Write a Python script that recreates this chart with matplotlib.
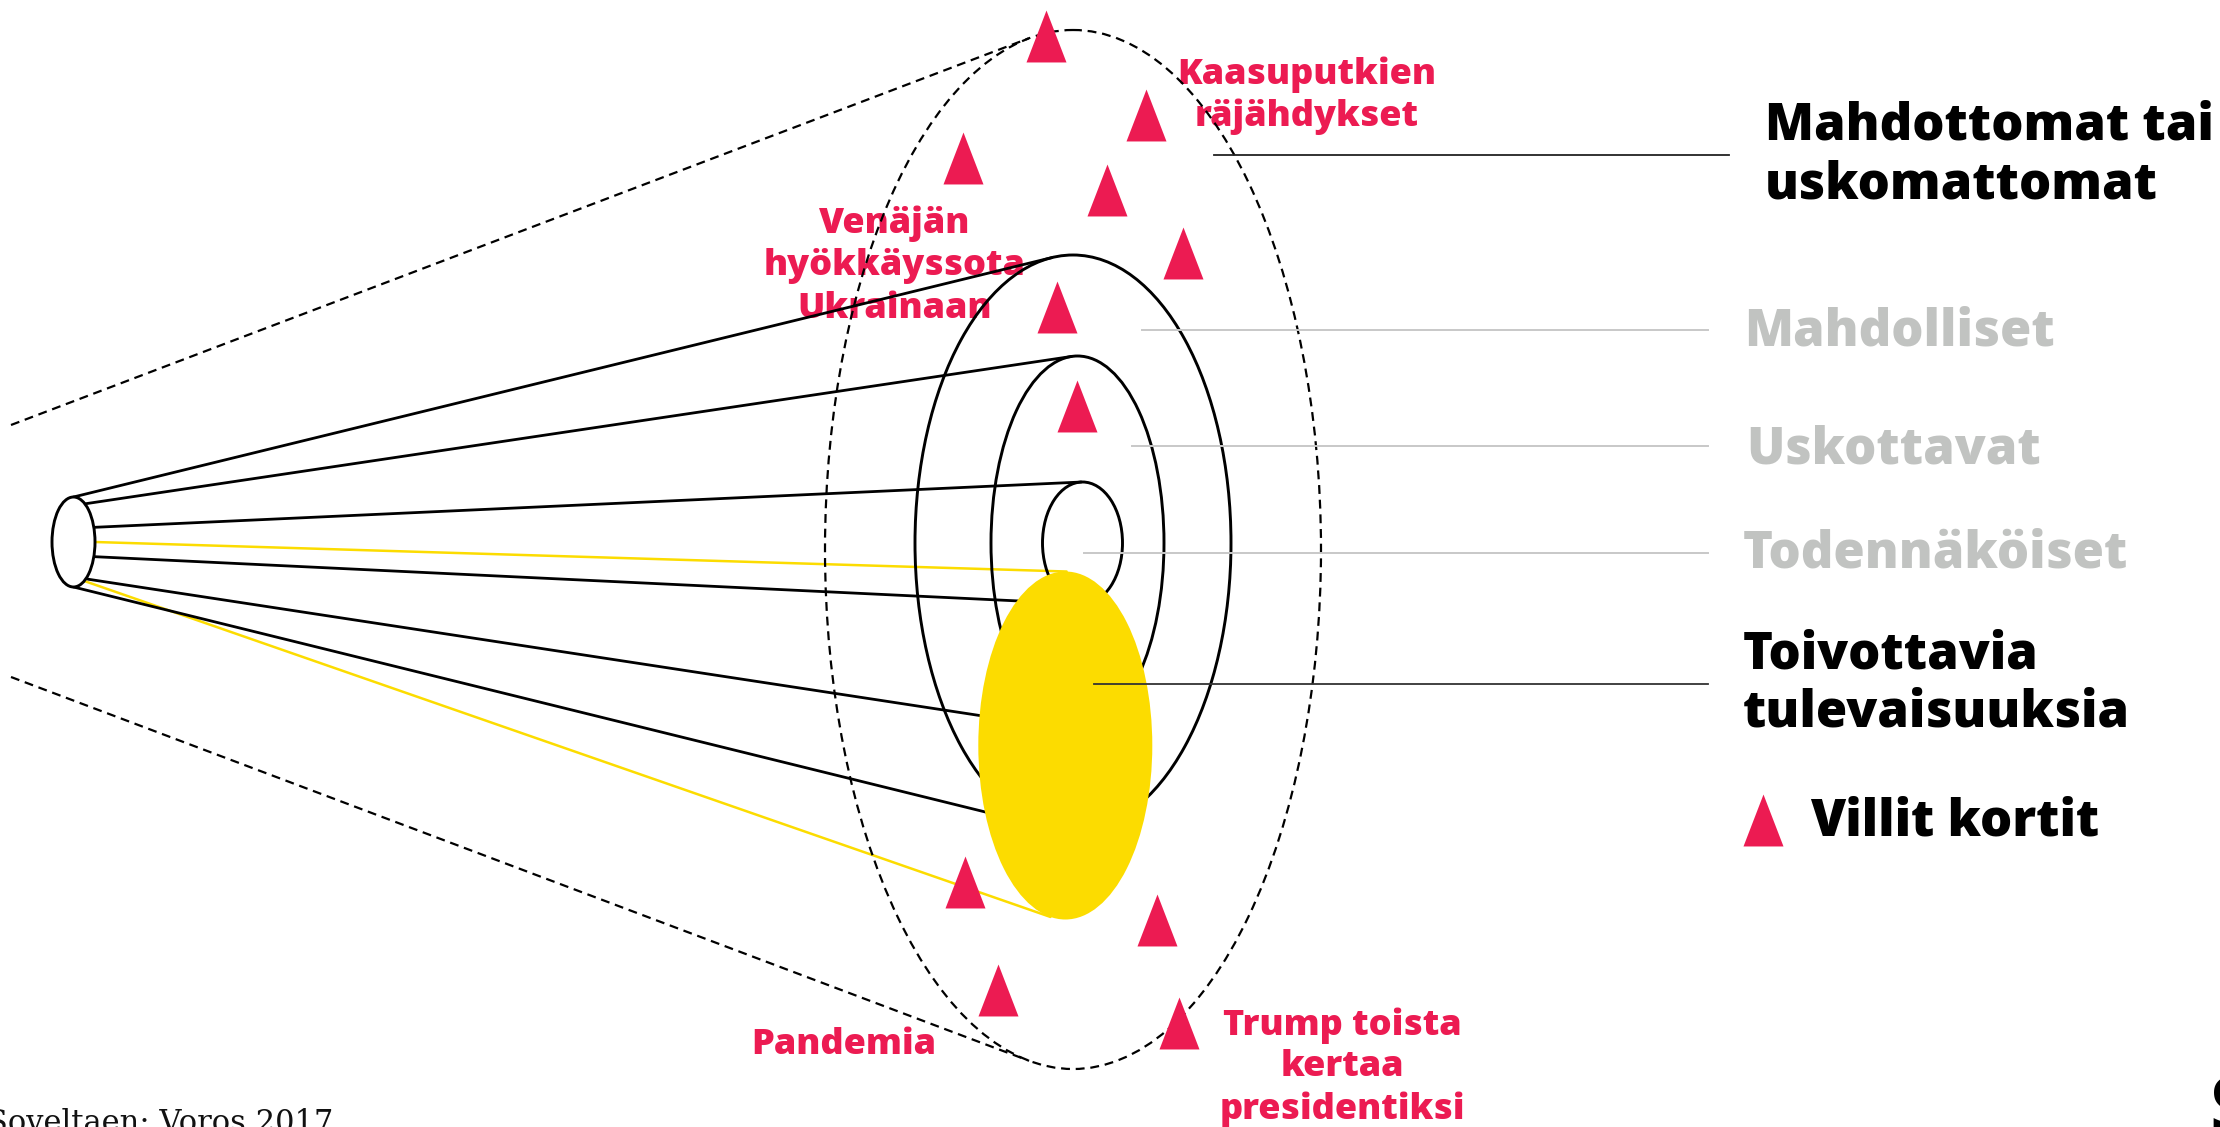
import numpy as np
import matplotlib
matplotlib.use("Agg")
import matplotlib.pyplot as plt
from matplotlib.patches import Ellipse

# ---------------- data ----------------
level_labels = ["Mahdottomat tai\nuskomattomat", "Mahdolliset", "Uskottavat",
                "Todennäköiset", "Toivottavia\ntulevaisuuksia"]
level_colors = ["#000000", "#C1C3C1", "#C1C3C1", "#C1C3C1", "#000000"]
legend_label = "Villit kortit"

wild_x = [1045.7, 1145.7, 963.3, 1106.7, 1183.0, 1057.0, 1077.0, 965.0, 1156.7, 997.7, 1178.7]
wild_y = [36.0, 114.5, 158.0, 189.5, 253.0, 307.0, 405.5, 882.0, 920.0, 990.0, 1023.0]

event_labels = ["Kaasuputkien\nräjähdykset", "Venäjän\nhyökkäyssota\nUkrainaan",
                "Pandemia", "Trump toista\nkertaa\npresidentiksi"]
source_text = "Soveltaen: Voros 2017"

# ---------------- geometry (canvas pixels) ----------------
W, H = 2220, 1127
PINK = "#EC1B52"
YELLOW = "#FCDC00"
GREY = "#C1C3C1"
HEAVY = ["Open Sans", "DejaVu Sans"]
HW = 800

small = (73.5, 542.0, 43.0, 90.0)
dash_e = (1073.0, 549.5, 496.0, 1039.0)
e_possible = (1073.0, 543.0, 316.0, 576.0)
e_plausible = (1077.5, 543.0, 173.0, 374.0)
e_probable = (1082.5, 543.0, 80.0, 122.0)
e_prefer = (1065.3, 745.5, 174.0, 348.0)

fig = plt.figure(figsize=(W / 100, H / 100), dpi=100)
ax = fig.add_axes([0, 0, 1, 1])
ax.set_xlim(0, W)
ax.set_ylim(H, 0)
ax.axis("off")


def point_on(e, deg):
    cx, cy, w, h = e
    t = np.deg2rad(deg)
    return cx + w / 2 * np.cos(t), cy + h / 2 * np.sin(t)


def tangent(P, e, which):
    cx, cy, w, h = e
    a, b = w / 2, h / 2
    t = np.linspace(0, 2 * np.pi, 40001)
    ex, ey = cx + a * np.cos(t), cy + b * np.sin(t)
    dx, dy = -a * np.sin(t), b * np.cos(t)
    cr = (ex - P[0]) * dy - (ey - P[1]) * dx
    idx = np.where(np.sign(cr[:-1]) * np.sign(cr[1:]) < 0)[0]
    pts = [(ex[i], ey[i]) for i in idx]
    pts.sort(key=lambda p: p[1])
    return pts[0] if which == "top" else pts[-1]


def ellipse(e, **kw):
    cx, cy, w, h = e
    ax.add_patch(Ellipse((cx, cy), w, h, **kw))


# cone lines from the present (small ellipse) to each ring
cone = [(-90, e_possible, "top", "k"), (-58, e_plausible, "top", "k"),
        (-19, e_probable, "top", "k"), (0, e_prefer, "top", YELLOW),
        (19, e_probable, "bottom", "k"), (55, e_plausible, "bottom", "k"),
        (60, e_prefer, "bottom", YELLOW), (90, e_possible, "bottom", "k")]
for deg, tgt, which, col in cone:
    P = point_on(small, deg)
    Q = tangent(P, tgt, which)
    ax.plot([P[0], Q[0]], [P[1], Q[1]], color=col,
            lw=2.0 if col == "k" else 1.8, zorder=2, solid_capstyle="round")

# dashed outer cone
for P, which in [((11.0, 425.0), "top"), ((11.0, 677.0), "bottom")]:
    Q = tangent(P, dash_e, which)
    ax.plot([P[0], Q[0]], [P[1], Q[1]], color="k", lw=1.6,
            ls=(0, (4, 2.6)), zorder=2)
ellipse(dash_e, fill=False, ec="k", lw=1.6, ls=(0, (4, 2.6)), zorder=2)

for e in (e_possible, e_plausible, e_probable):
    ellipse(e, fill=False, ec="k", lw=2.1, zorder=2)
ellipse(small, fc="white", ec="k", lw=2.1, zorder=2.5)
ellipse(e_prefer, fc=YELLOW, ec="none", zorder=3)

# leader lines
leaders = [(1214, 1729, 155, "#222222", 1.3), (1142, 1708, 330, "#C8C8C8", 1.4),
           (1132, 1708, 446, "#C8C8C8", 1.4), (1084, 1708, 552.7, "#C8C8C8", 1.4),
           (1094, 1708, 684, "#333333", 1.3)]
for x0, x1, y, c, lw in leaders:
    ax.plot([x0, x1], [y, y], color=c, lw=lw, zorder=4)

# wild-card triangles
tri = [(-0.77, -1.0), (0.77, -1.0), (0.0, 1.0)]
ax.plot(wild_x, wild_y, ls="none", marker=tri, markersize=37.4,
        color=PINK, markeredgewidth=0, zorder=5)
ax.plot([1762.7], [820.0], ls="none", marker=tri, markersize=37.4,
        color=PINK, markeredgewidth=0, zorder=5)


def multiline(x, y0, text, step, **kw):
    for i, line in enumerate(text.split("\n")):
        ax.text(x, y0 + i * step, line, va="baseline", **kw)


# level labels on the right
lvl_pos = [(1765, 140.0), (1744, 345.7), (1746, 463.3), (1743, 567.3), (1743, 668.3)]
for (x, y), lab, col in zip(lvl_pos, level_labels, level_colors):
    multiline(x, y, lab, 58.4, ha="left", color=col, fontsize=36.5,
              family=HEAVY, fontweight=HW, zorder=6)
multiline(1810, 835.0, legend_label, 58, ha="left", color="k", fontsize=36.5,
          family=HEAVY, fontweight=HW, zorder=6)

# event labels
ev_pos = [(1307, 84.0), (895, 233.5), (844, 1054.5), (1342, 1034.5)]
for (x, y), lab in zip(ev_pos, event_labels):
    multiline(x, y, lab, 42.0, ha="center", color=PINK, fontsize=26,
              family=HEAVY, fontweight=HW, zorder=1)

# source and cut-off logo letter
ax.text(333, 1132, source_text, ha="right", va="baseline", fontsize=22,
        family=["DejaVu Serif"], color="#111111")
ax.text(2209, 1135, "S", ha="left", va="baseline", fontsize=60,
        family=HEAVY, fontweight=HW, color="k")

fig.savefig("out.png", dpi=100)
